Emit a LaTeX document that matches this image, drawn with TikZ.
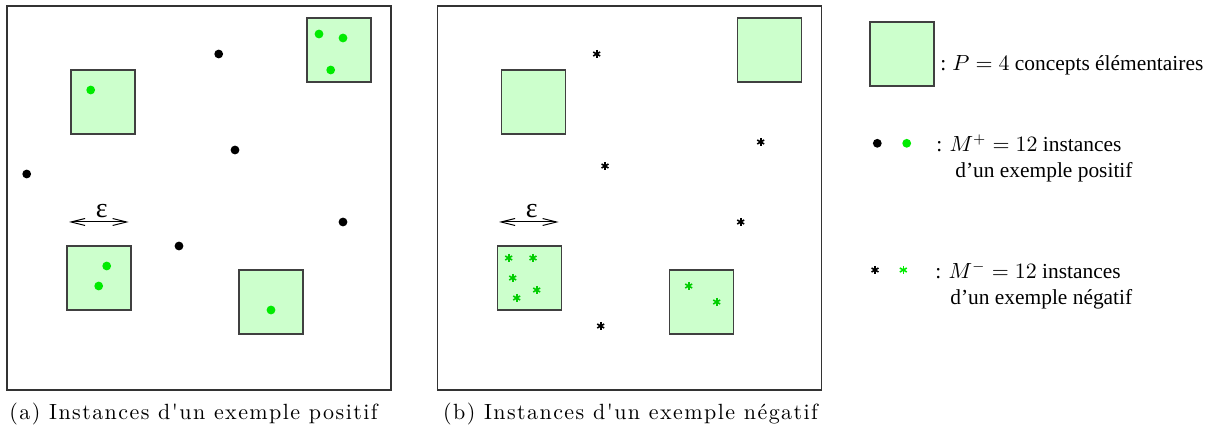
\documentclass[tikz,border=0pt]{standalone}
\usepackage{fontspec}
\setmainfont{Liberation Serif}
\newfontfamily\capfont[LetterSpace=6.5]{Latin Modern Roman}
\usetikzlibrary{arrows.meta}
\definecolor{cfill}{RGB}{204,255,204}
\definecolor{gdotcol}{RGB}{0,235,0}
\definecolor{gstarcol}{RGB}{0,205,0}
\tikzset{
  panel/.style={draw=black!80, line width=0.55pt},
  concept/.style={shape=rectangle, draw=black!75, fill=cfill, line width=0.6pt, minimum size=32pt, inner sep=0pt},
  bdot/.style={circle, fill=black, inner sep=0pt, minimum size=4.4pt},
  gdot/.style={bdot, fill=gdotcol},
  astar/.style={circle, inner sep=0pt, minimum size=5pt,
    path picture={\foreach \a in {90,30,150}{\draw[line width=0.8pt,#1]
      ([shift={(\a:2pt)}]path picture bounding box.center) --
      ([shift={(\a+180:2pt)}]path picture bounding box.center);}}},
  astar/.default=black,
  legtext/.style={anchor=base west, inner sep=0pt, font=\fontsize{10.7}{12.8}\selectfont},
  captext/.style={inner sep=0pt, font=\fontsize{11}{13}\capfont},
  epstext/.style={inner sep=0pt, font=\fontsize{14}{14}\selectfont},
  epsarrow/.style={{Straight Barb[length=7pt,width=3.5pt]}-{Straight Barb[length=7pt,width=3.5pt]}, line width=0.5pt}
}
\begin{document}
\begin{tikzpicture}[x=0.5pt,y=-0.5pt]
\useasboundingbox (0,0) rectangle (1220,437);
% ---------- panel (a)
\node[panel, shape=rectangle, inner sep=0pt, minimum width=192pt, minimum height=192pt] (pa) at (199,198) {};
\node[concept] (a1) at (103,102) {};
\node[concept] (a2) at (339,50) {};
\node[concept] (a3) at (99,278) {};
\node[concept] (a4) at (271,302) {};
\node[bdot] (ab1) at (218.7,54) {};
\node[bdot] (ab2) at (235,150) {};
\node[bdot] (ab3) at (26.7,174) {};
\node[bdot] (ab4) at (179,246) {};
\node[bdot] (ab5) at (343,222) {};
\node[gdot] (ag1) at (90.7,90) {};
\node[gdot] (ag2) at (319,34) {};
\node[gdot] (ag3) at (343,38) {};
\node[gdot] (ag4) at (330.7,70) {};
\node[gdot] (ag5) at (106.7,266) {};
\node[gdot] (ag6) at (98.7,286) {};
\node[gdot] (ag7) at (271,310) {};
\coordinate (ae1) at (69,222);
\coordinate (ae2) at (128.7,222);
\draw[epsarrow] (ae1) -- (ae2);
\node[epstext] (aeps) at (101.7,211) {ε};
\node[captext] (capa) at (193.5,414) {(a) Instances d'un exemple positif};
% ---------- panel (b)
\node[panel, shape=rectangle, inner sep=0pt, minimum width=192pt, minimum height=192pt] (pb) at (629.5,198) {};
\node[concept] (b1) at (533.3,102) {};
\node[concept] (b2) at (769.5,50) {};
\node[concept] (b3) at (529.5,278) {};
\node[concept] (b4) at (701.5,302) {};
\node[astar] (bs1) at (596.7,54) {};
\node[astar] (bs2) at (605,166) {};
\node[astar] (bs3) at (760.7,142) {};
\node[astar] (bs4) at (740.7,222) {};
\node[astar] (bs5) at (600.7,326) {};
\node[astar=gstarcol] (bg1) at (508.7,258) {};
\node[astar=gstarcol] (bg2) at (533,258) {};
\node[astar=gstarcol] (bg3) at (512.7,278) {};
\node[astar=gstarcol] (bg4) at (536.7,290) {};
\node[astar=gstarcol] (bg5) at (516.7,298) {};
\node[astar=gstarcol] (bg6) at (688.7,286) {};
\node[astar=gstarcol] (bg7) at (716.7,302) {};
\coordinate (be1) at (499,222);
\coordinate (be2) at (558.7,222);
\draw[epsarrow] (be1) -- (be2);
\node[epstext] (beps) at (531.7,211) {ε};
\node[captext] (capb) at (630.5,414) {(b) Instances d'un exemple négatif};
% ---------- legend
\node[concept] (lc) at (902,54) {};
\node[legtext] (lt1) at (940,71) {:\hspace{3pt}$P = 4$ concepts élémentaires};
\node[bdot] (lb) at (877.3,143.3) {};
\node[gdot] (lg) at (906.7,143.3) {};
\node[legtext] (lt2) at (936,151.7) {:\hspace{3.6pt}$M^{+} = 12$ instances};
\node[legtext] (lt2b) at (955,177.3) {d’un exemple positif};
\node[astar] (ls) at (875,270) {};
\node[astar=gdotcol] (lsg) at (903.3,270) {};
\node[legtext] (lt3) at (935,278.3) {:\hspace{3.6pt}$M^{-} = 12$ instances};
\node[legtext] (lt3b) at (950,305) {d’un exemple négatif};
\end{tikzpicture}
\end{document}
